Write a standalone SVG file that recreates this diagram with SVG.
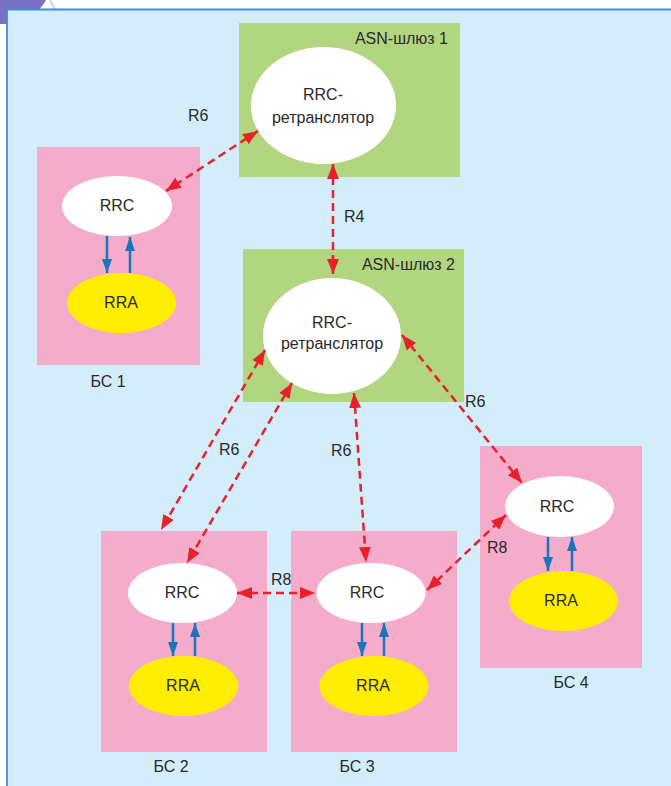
<svg xmlns="http://www.w3.org/2000/svg" width="671" height="786" viewBox="0 0 671 786">
  <style>
    .lbl { font-family: "Liberation Sans", "DejaVu Sans", sans-serif; font-size: 16px; fill: #2a2a2a; }
    .mid { text-anchor: middle; }
    .end { text-anchor: end; }
    .gw { fill: #b2d57f; }
    .bs { fill: #f5abca; }
    .rrc { fill: #ffffff; }
    .rra { fill: #ffee00; }
    .ref { stroke: #e8202a; stroke-width: 2.5; stroke-dasharray: 8 5; fill: none; }
    .loc { stroke: #1b75bb; stroke-width: 2.5; fill: none; }
  </style>
  <defs>
    <marker id="redHead" markerUnits="userSpaceOnUse" markerWidth="15" markerHeight="12" refX="15" refY="6" orient="auto-start-reverse">
      <path d="M0,0 L15,6 L0,12 z" fill="#e8202a"/>
    </marker>
    <marker id="blueHead" markerUnits="userSpaceOnUse" markerWidth="14" markerHeight="10" refX="14" refY="5" orient="auto">
      <path d="M0,0 L14,5 L0,10 z" fill="#1b75bb"/>
    </marker>
  </defs>

  <!-- page background and neighbouring artwork -->
  <rect x="0" y="0" width="671" height="786" fill="#ffffff"/>
  <path d="M0,0 L46,0 C43,6 38,11 32,14 L8,16 L7,24 L0,24 z" fill="#7b70c2"/>
  <path d="M50,0 C53,5 55,9 56,12" stroke="#c9c4e6" stroke-width="1.5" fill="none"/>

  <!-- panel -->
  <rect x="7" y="9.5" width="670" height="780" fill="#d3eefa"/>
  <path d="M7,790 L7,9.5 L671,9.5" stroke="#3f8fd4" stroke-width="1.8" fill="none"/>

  <!-- ASN gateway 1 -->
  <g id="asn1">
    <rect class="gw" x="239" y="23" width="221" height="154"/>
    <text class="lbl end" x="448" y="44">ASN-шлюз 1</text>
    <ellipse class="rrc" cx="323.5" cy="105.5" rx="72.5" ry="58.5"/>
    <text class="lbl mid" x="323" y="100">RRC-</text>
    <text class="lbl mid" x="323" y="123">ретранслятор</text>
  </g>

  <!-- ASN gateway 2 -->
  <g id="asn2">
    <rect class="gw" x="243" y="249" width="221" height="153"/>
    <text class="lbl end" x="455" y="270">ASN-шлюз 2</text>
    <ellipse class="rrc" cx="332" cy="336" rx="69" ry="58"/>
    <text class="lbl mid" x="332" y="328">RRC-</text>
    <text class="lbl mid" x="332" y="349">ретранслятор</text>
  </g>

  <!-- base station 1 -->
  <g id="bs1">
    <rect class="bs" x="37" y="147" width="163" height="218"/>
    <ellipse class="rrc" cx="117" cy="206" rx="55" ry="30"/>
    <text class="lbl mid" x="117" y="211">RRC</text>
    <ellipse class="rra" cx="121.5" cy="303" rx="54.5" ry="30"/>
    <text class="lbl mid" x="121" y="308">RRA</text>
    <line class="loc" x1="107" y1="236" x2="107" y2="273" marker-end="url(#blueHead)"/>
    <line class="loc" x1="130" y1="273" x2="130" y2="237" marker-end="url(#blueHead)"/>
    <text class="lbl mid" x="108" y="387">БС 1</text>
  </g>

  <!-- base station 2 -->
  <g id="bs2">
    <rect class="bs" x="101" y="531" width="166" height="221"/>
    <ellipse class="rrc" cx="182.5" cy="593" rx="54.5" ry="30"/>
    <text class="lbl mid" x="182" y="598">RRC</text>
    <ellipse class="rra" cx="183.5" cy="686" rx="54.5" ry="30"/>
    <text class="lbl mid" x="183" y="691">RRA</text>
    <line class="loc" x1="173" y1="623" x2="173" y2="656" marker-end="url(#blueHead)"/>
    <line class="loc" x1="195" y1="656" x2="195" y2="623" marker-end="url(#blueHead)"/>
    <text class="lbl mid" x="171" y="772">БС 2</text>
  </g>

  <!-- base station 3 -->
  <g id="bs3">
    <rect class="bs" x="291" y="531" width="166" height="221"/>
    <ellipse class="rrc" cx="371" cy="593" rx="54.5" ry="30"/>
    <text class="lbl mid" x="367" y="598">RRC</text>
    <ellipse class="rra" cx="374" cy="686" rx="54.5" ry="30"/>
    <text class="lbl mid" x="373" y="691">RRA</text>
    <line class="loc" x1="362" y1="623" x2="362" y2="656" marker-end="url(#blueHead)"/>
    <line class="loc" x1="384" y1="656" x2="384" y2="623" marker-end="url(#blueHead)"/>
    <text class="lbl mid" x="357" y="772">БС 3</text>
  </g>

  <!-- base station 4 -->
  <g id="bs4">
    <rect class="bs" x="480" y="446" width="162" height="222"/>
    <ellipse class="rrc" cx="559.5" cy="506.5" rx="54.5" ry="30.5"/>
    <text class="lbl mid" x="557" y="512">RRC</text>
    <ellipse class="rra" cx="563.5" cy="601" rx="54.5" ry="30"/>
    <text class="lbl mid" x="561" y="606">RRA</text>
    <line class="loc" x1="548" y1="537" x2="548" y2="571" marker-end="url(#blueHead)"/>
    <line class="loc" x1="572" y1="571" x2="572" y2="537" marker-end="url(#blueHead)"/>
    <text class="lbl mid" x="571" y="688">БС 4</text>
  </g>

  <!-- reference points -->
  <g id="connectors">
    <line class="ref" x1="258" y1="131" x2="166" y2="191" marker-start="url(#redHead)" marker-end="url(#redHead)"/>
    <line class="ref" x1="333" y1="164" x2="333" y2="274" marker-start="url(#redHead)" marker-end="url(#redHead)"/>
    <line class="ref" x1="265" y1="350" x2="161" y2="530" marker-start="url(#redHead)" marker-end="url(#redHead)"/>
    <line class="ref" x1="292" y1="383" x2="187" y2="563" marker-start="url(#redHead)" marker-end="url(#redHead)"/>
    <line class="ref" x1="354" y1="393" x2="366" y2="562" marker-start="url(#redHead)" marker-end="url(#redHead)"/>
    <line class="ref" x1="402" y1="335" x2="522" y2="483" marker-start="url(#redHead)" marker-end="url(#redHead)"/>
    <line class="ref" x1="237" y1="593" x2="315" y2="593" marker-start="url(#redHead)" marker-end="url(#redHead)"/>
    <line class="ref" x1="427" y1="590" x2="506" y2="515" marker-start="url(#redHead)" marker-end="url(#redHead)"/>
    <text class="lbl" x="188" y="121">R6</text>
    <text class="lbl" x="344" y="222">R4</text>
    <text class="lbl" x="219" y="455">R6</text>
    <text class="lbl" x="331" y="456">R6</text>
    <text class="lbl" x="465" y="407">R6</text>
    <text class="lbl" x="271" y="585">R8</text>
    <text class="lbl" x="487" y="553">R8</text>
  </g>
</svg>
